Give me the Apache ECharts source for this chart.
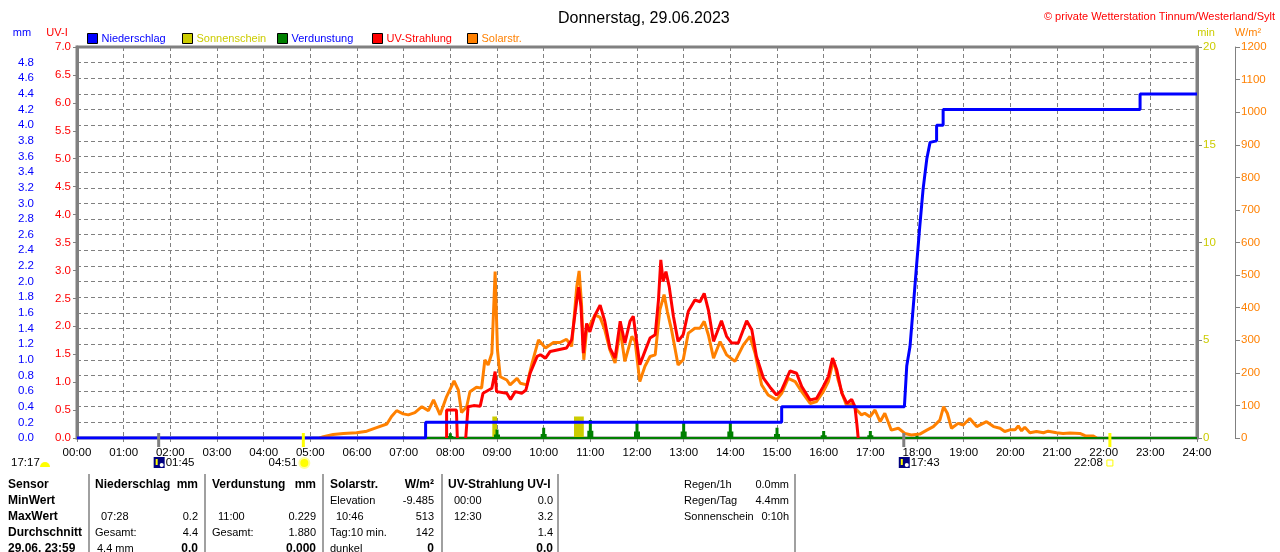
<!DOCTYPE html>
<html><head><meta charset="utf-8">
<script src="https://cdn.jsdelivr.net/npm/echarts/dist/echarts.min.js"></script>
<style>html,body{margin:0;padding:0;background:#fff}#c{width:1280px;height:552px}</style>
</head><body><div id="c"></div>
<script>
// ---------- data ----------
const xTickLabels = ['00:00','01:00','02:00','03:00','04:00','05:00','06:00','07:00','08:00','09:00','10:00','11:00','12:00','13:00','14:00','15:00','16:00','17:00','18:00','19:00','20:00','21:00','22:00','23:00','24:00'];

// Niederschlag (cumulative mm), step line
const rainTimes = [0, 7.47, 7.47, 15.1, 15.1, 17.73, 17.78, 17.85, 17.92, 17.99, 18.06, 18.13, 18.21, 18.28, 18.31, 18.42, 18.42, 18.56, 18.56, 22.78, 22.78, 24];
const rainMM    = [0, 0,    0.2,  0.2,  0.4,  0.4,   0.92,  1.17,  1.68,  2.2,   2.71,  3.18,  3.57,  3.78,  3.8,   3.8,   4.0,   4.0,   4.2,   4.2,   4.4,   4.4];

// Sonnenschein (min)
const sunStart   = [8.9, 10.65];
const sunEnd     = [9.0, 10.86];
const sunMinutes = [1.1, 1.1];

// Verdunstung (mm, hourly)
const evapHours = [1, 2, 3, 4, 5, 6, 7, 8, 9, 10, 11, 12, 13, 14, 15, 16, 17, 18, 19, 20, 21];
const evapMM    = [0.01, 0.01, 0.01, 0.01, 0.01, 0.01, 0.02, 0.06, 0.11, 0.13, 0.229, 0.21, 0.21, 0.21, 0.13, 0.09, 0.09, 0.035, 0.01, 0.01, 0.01];

// UV-Strahlung (UV-I); null = gap
const uvTimes = [7.92,7.92,8.13,8.15,8.24,8.33,8.38,8.5,8.64,8.7,8.89,8.96,8.99,9.21,9.29,9.39,9.53,9.62,9.71,9.86,9.93,10.04,10.14,10.49,10.6,10.71,10.75,10.8,10.85,10.92,10.99,11.1,11.21,11.31,11.42,11.53,11.64,11.74,11.85,11.92,12.06,12.21,12.28,12.39,12.46,12.51,12.56,12.62,12.69,12.78,12.88,12.99,13.1,13.24,13.35,13.44,13.53,13.64,13.71,13.81,13.92,14.03,14.17,14.35,14.46,14.56,14.71,14.85,14.99,15.1,15.21,15.28,15.42,15.53,15.71,15.85,15.99,16.1,16.19,16.28,16.39,16.5,16.6,16.67,16.71,16.74];
const uvIndex = [0,0.5,0.5,0,null,0,0.56,0.58,0.57,0.8,0.89,1.19,0.83,0.8,0.69,0.83,0.8,0.86,1.16,1.46,1.49,1.43,1.55,1.61,1.76,2.47,2.7,2.35,1.52,2.05,1.9,2.2,2.38,2.09,1.61,1.43,2.09,1.7,2.09,2.18,1.31,1.64,1.79,1.85,2.47,3.19,2.8,2.98,2.71,2.18,1.73,1.85,2.27,2.47,2.44,2.59,2.29,1.73,1.88,2.1,1.82,1.7,1.7,2.1,1.94,1.46,1.07,0.91,0.77,0.86,1.07,1.2,1.16,0.92,0.68,0.71,0.92,1.1,1.43,1.22,0.8,0.62,0.69,0.56,0.26,0];

// Solarstrahlung (W/m²)
const solarTimes = [5.2,5.28,5.49,5.71,5.99,6.21,6.42,6.64,6.74,6.85,6.99,7.1,7.24,7.39,7.53,7.64,7.78,7.92,8.08,8.17,8.24,8.35,8.42,8.56,8.67,8.74,8.81,8.89,8.96,9.01,9.07,9.21,9.28,9.43,9.5,9.64,9.75,9.89,10.04,10.21,10.35,10.49,10.6,10.71,10.76,10.81,10.86,10.92,10.99,11.1,11.21,11.31,11.42,11.53,11.64,11.74,11.89,11.96,12.06,12.17,12.28,12.39,12.49,12.58,12.65,12.74,12.88,12.99,13.1,13.24,13.35,13.44,13.53,13.64,13.78,13.92,14.1,14.28,14.42,14.53,14.67,14.81,14.99,15.1,15.24,15.39,15.53,15.71,15.85,15.99,16.1,16.21,16.31,16.42,16.5,16.6,16.71,16.81,16.88,16.99,17.1,17.21,17.31,17.45,17.6,17.74,17.88,18.06,18.21,18.35,18.49,18.57,18.65,18.74,18.88,18.99,19.13,19.28,19.49,19.64,19.78,19.88,19.99,20.1,20.17,20.24,20.31,20.42,20.56,20.71,20.81,20.99,21.13,21.28,21.49,21.6,21.78,21.85];
const solarWm2 = [0,4,11,14,16,21,32,43,66,84,74,71,78,96,84,117,71,127,175,148,78,96,142,156,153,240,224,260,511,270,188,178,163,183,168,163,229,301,276,293,293,303,281,465,513,414,240,332,347,378,370,332,270,230,332,235,312,296,173,220,250,255,393,440,388,332,224,240,322,337,337,358,316,245,296,255,235,286,312,260,163,132,117,137,183,173,142,106,112,142,173,240,178,127,96,106,86,71,76,65,86,50,76,24,30,14,9,12,24,35,55,96,76,30,45,40,60,35,50,35,30,20,25,25,37,22,33,16,20,16,21,16,14,15,14,7,6,0];

// Astronomical events
const eventTimes  = [1.75, 4.85, 17.7167, 22.1333];
const eventLabels = ['01:45', '04:51', '17:43', '22:08'];
const eventKinds  = ['moon', 'sun', 'moon', 'sunset'];
const dayLength   = '17:17';

// Table
const tblSensor = ['Sensor', 'MinWert', 'MaxWert', 'Durchschnitt', '29.06. 23:59'];
const tblRain   = [['Niederschlag','mm'], ['',''], ['07:28','0.2'], ['Gesamt:','4.4'], ['4.4 mm','0.0']];
const tblEvap   = [['Verdunstung','mm'], ['',''], ['11:00','0.229'], ['Gesamt:','1.880'], ['','0.000']];
const tblSolar  = [['Solarstr.','W/m²'], ['Elevation','-9.485'], ['10:46','513'], ['Tag:10 min.','142'], ['dunkel','0']];
const tblUV     = [['UV-Strahlung UV-I',''], ['00:00','0.0'], ['12:30','3.2'], ['','1.4'], ['','0.0']];
const tblInfo   = [['Regen/1h','0.0mm'], ['Regen/Tag','4.4mm'], ['Sonnenschein','0:10h']];

// ---------- chart ----------
const FONT = '"Liberation Sans", Arial, sans-serif';
const GRAY = '#808080';
const AXFS = 11.5;
const chart = echarts.init(document.getElementById('c'));

function legendItem(name, left, color) {
  return {
    data: [name], left: left, top: 33, padding: 0, icon: 'rect',
    itemWidth: 10, itemHeight: 10, itemGap: 4,
    itemStyle: { borderColor: '#000', borderWidth: 1 },
    textStyle: { color: color, fontSize: 11, fontFamily: FONT, padding: [0, 0, 0, -1] }
  };
}

const option = {
  animation: false,
  textStyle: { fontFamily: FONT },
  title: [
    { text: 'Donnerstag, 29.06.2023', left: 553, top: 6,
      textStyle: { fontSize: 16, fontWeight: 'normal', color: '#000', fontFamily: FONT } },
    { text: '© private Wetterstation Tinnum/Westerland/Sylt', right: 0, top: 6,
      textStyle: { fontSize: 11, fontWeight: 'normal', color: '#ff0000', fontFamily: FONT } }
  ],
  legend: [
    legendItem('Niederschlag', 87, '#0000ff'),
    legendItem('Sonnenschein', 182, '#cccc00'),
    legendItem('Verdunstung', 277, '#0000ff'),
    legendItem('UV-Strahlung', 372, '#ff0000'),
    legendItem('Solarstr.', 467, '#ff8000')
  ],
  grid: { left: 77, right: 83, top: 47, bottom: 114, show: true, borderColor: GRAY, borderWidth: 3, backgroundColor: 'transparent' },
  xAxis: {
    type: 'value', min: 0, max: 24, interval: 1,
    axisLine: { show: true, lineStyle: { color: GRAY, width: 1 } },
    axisTick: { show: true, length: 4, lineStyle: { color: GRAY } },
    axisLabel: { color: '#000', fontSize: AXFS, margin: 9, formatter: v => xTickLabels[Math.round(v)] },
    splitLine: { show: true, lineStyle: { color: GRAY, type: [4, 3], width: 1 } }
  },
  yAxis: [
    { // mm
      type: 'value', position: 'left', offset: 36, min: 0, max: 5, interval: 0.2,
      axisLine: { show: true, lineStyle: { color: GRAY, width: 1 } },
      axisTick: { show: true, inside: true, length: 3, lineStyle: { color: GRAY } },
      axisLabel: { color: '#0000ff', fontSize: AXFS, margin: 7, formatter: v => v > 4.95 ? '' : v.toFixed(1) },
      splitLine: { show: true, lineStyle: { color: GRAY, type: [4, 3], width: 1 } }
    },
    { // UV-I
      type: 'value', position: 'left', offset: 0, min: 0, max: 7, interval: 0.5,
      axisLine: { show: true, lineStyle: { color: GRAY, width: 3 } },
      axisTick: { show: true, length: 4, lineStyle: { color: GRAY } },
      axisLabel: { color: '#ff0000', fontSize: AXFS, margin: 6, formatter: v => v.toFixed(1) },
      splitLine: { show: false }
    },
    { // min
      type: 'value', position: 'right', offset: 0, min: 0, max: 20, interval: 5,
      axisLine: { show: true, lineStyle: { color: GRAY, width: 3 } },
      axisTick: { show: true, length: 5, lineStyle: { color: GRAY } },
      axisLabel: { color: '#cccc00', fontSize: AXFS, margin: 6, formatter: v => String(v) },
      splitLine: { show: false }
    },
    { // W/m²
      type: 'value', position: 'right', offset: 38, min: 0, max: 1200, interval: 100,
      axisLine: { show: true, lineStyle: { color: GRAY, width: 1 } },
      axisTick: { show: true, length: 5, lineStyle: { color: GRAY } },
      axisLabel: { color: '#ff8000', fontSize: AXFS, margin: 6, formatter: v => String(v) },
      splitLine: { show: false }
    }
  ],
  series: [
    {
      name: 'Sonnenschein', type: 'custom', yAxisIndex: 2, z: 2,
      itemStyle: { color: '#cccc00' },
      encode: { x: [0, 1], y: 2 },
      data: sunStart.map((s, i) => [s, sunEnd[i], sunMinutes[i]]),
      renderItem: (params, api) => {
        const p1 = api.coord([api.value(0), api.value(2)]);
        const p2 = api.coord([api.value(1), 0]);
        return { type: 'rect', shape: { x: p1[0], y: p1[1], width: p2[0] - p1[0], height: p2[1] - p1[1] },
                 style: { fill: '#cccc00' } };
      }
    },
    {
      name: 'Verdunstung', type: 'custom', yAxisIndex: 0, z: 3,
      itemStyle: { color: '#008000' },
      encode: { x: 0, y: 1 },
      data: evapHours.map((h, i) => [h, evapMM[i]]),
      renderItem: (params, api) => {
        const top = api.coord([api.value(0), api.value(1)]);
        const base = api.coord([api.value(0), 0]);
        const x = base[0], b = base[1], t = top[1];
        const m = b - (b - t) * 0.4;
        return { type: 'polygon', shape: { points: [[x - 3, b], [x - 3, m], [x - 1.5, m], [x - 1.5, t], [x + 1.5, t], [x + 1.5, m], [x + 3, m], [x + 3, b]] },
                 style: { fill: '#008000' } };
      },
      markLine: { silent: true, symbol: 'none', label: { show: false },
        lineStyle: { color: '#008000', width: 2, type: 'solid' }, data: [{ yAxis: 0 }] }
    },
    {
      name: 'Solarstr.', type: 'line', yAxisIndex: 3, z: 4, symbol: 'none', showSymbol: false,
      lineStyle: { color: '#ff8000', width: 3 }, itemStyle: { color: '#ff8000' },
      data: solarTimes.map((t, i) => [t, solarWm2[i]])
    },
    {
      name: 'UV-Strahlung', type: 'line', yAxisIndex: 1, z: 5, symbol: 'none', showSymbol: false, connectNulls: false,
      lineStyle: { color: '#ff0000', width: 3 }, itemStyle: { color: '#ff0000' },
      data: uvTimes.map((t, i) => [t, uvIndex[i] === null ? '-' : uvIndex[i]])
    },
    {
      name: 'Niederschlag', type: 'line', yAxisIndex: 0, z: 6, symbol: 'none', showSymbol: false,
      lineStyle: { color: '#0000ff', width: 3 }, itemStyle: { color: '#0000ff' },
      data: rainTimes.map((t, i) => [t, rainMM[i]])
    }
  ]
};
chart.setOption(option);

// ---------- annotations & table ----------
const g = [];
function txt(x, y, s, color, bold, align, size) {
  g.push({ type: 'text', x: x, y: y, silent: true,
    style: { text: s, fill: color || '#000', font: (bold ? 'bold 12px ' : (size || 11) + 'px ') + FONT,
             align: align || 'left', verticalAlign: 'middle' } });
}
// axis names
txt(22, 33, 'mm', '#0000ff', false, 'center');
txt(57, 33, 'UV-I', '#ff0000', false, 'center');
txt(1206, 33, 'min', '#cccc00', false, 'center');
txt(1248, 33, 'W/m²', '#ff8000', false, 'center');

// astronomical events
eventTimes.forEach((t, i) => {
  const x = chart.convertToPixel({ xAxisIndex: 0 }, t);
  const kind = eventKinds[i];
  const isSun = kind !== 'moon';
  g.push({ type: 'line', silent: true, shape: { x1: x, y1: 433, x2: x, y2: 447 },
           style: { stroke: isSun ? '#ffff00' : GRAY, lineWidth: 3 }, z: 100 });
  if (kind === 'moon') {
    g.push({ type: 'rect', silent: true, shape: { x: x - 5, y: 457, width: 11, height: 11 }, style: { fill: '#000080' } });
    g.push({ type: 'rect', silent: true, shape: { x: x - 3, y: 459, width: 2, height: 6 }, style: { fill: '#ffff00' } });
    g.push({ type: 'circle', silent: true, shape: { cx: x + 3, cy: 465, r: 2 }, style: { fill: '#ffffff' } });
    txt(x + 7, 463, eventLabels[i], '#000', false, 'left', AXFS);
  } else if (kind === 'sun') {
    g.push({ type: 'circle', silent: true, shape: { cx: x + 1, cy: 463, r: 5 }, style: { fill: '#ffff00', stroke: '#ffff99', lineWidth: 2 } });
    txt(x - 6, 463, eventLabels[i], '#000', false, 'right', AXFS);
  } else {
    g.push({ type: 'rect', silent: true, shape: { x: x - 3, y: 460, width: 6, height: 6 }, style: { fill: '#ffffff', stroke: '#ffff00', lineWidth: 1 } });
    txt(x - 7, 463, eventLabels[i], '#000', false, 'right', AXFS);
  }
});
txt(11, 463, dayLength, '#000', false, 'left', AXFS);
g.push({ type: 'sector', silent: true, shape: { cx: 45, cy: 467, r0: 0, r: 5, startAngle: Math.PI, endAngle: 2 * Math.PI }, style: { fill: '#ffff00' } });

// table
const rowY = [485, 501, 517, 533, 549];
[89, 205, 323, 442, 558, 795].forEach(x => {
  g.push({ type: 'line', silent: true, shape: { x1: x, y1: 474, x2: x, y2: 552 }, style: { stroke: '#a0a0a0', lineWidth: 2 } });
});
tblSensor.forEach((s, r) => txt(8, rowY[r], s, '#000', true, 'left'));
function block(rows, lx, rx, boldLastValue) {
  rows.forEach((row, r) => {
    const head = r === 0;
    const isTime = /^\d\d:\d\d$/.test(row[0]);
    if (row[0]) txt(lx + (isTime ? 6 : 0) + (row[0] === '4.4 mm' ? 2 : 0), rowY[r], row[0], '#000', head, 'left');
    if (row[1]) txt(rx, rowY[r], row[1], '#000', head || (boldLastValue && r === 4), 'right');
  });
}
block(tblRain, 95, 198, true);
block(tblEvap, 212, 316, true);
block(tblSolar, 330, 434, true);
block(tblUV, 448, 553, true);
tblInfo.forEach((row, r) => {
  txt(684, rowY[r], row[0], '#000', false, 'left');
  txt(789, rowY[r], row[1], '#000', false, 'right');
});

chart.setOption({ graphic: g });
</script>
</body></html>
